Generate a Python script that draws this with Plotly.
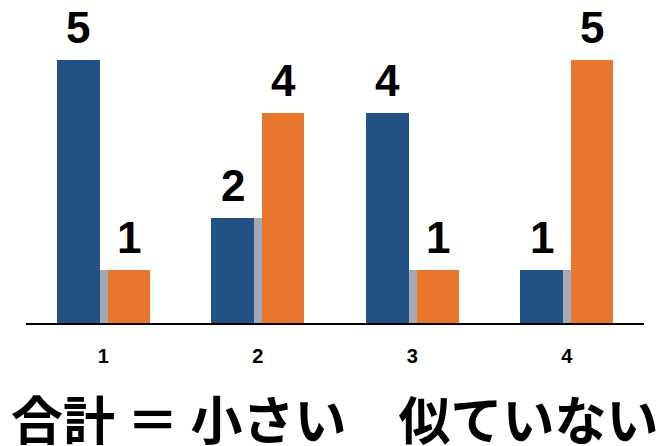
import plotly.graph_objects as go

categories = [1, 2, 3, 4]
tick_labels = ["1", "2", "3", "4"]
blue_values = [5, 2, 4, 1]
orange_values = [1, 4, 1, 5]
overlap_values = [1, 2, 1, 1]
caption = "合計 ＝ 小さい　似ていない"

BLUE = "#225283"
ORANGE = "#E8772D"
GRAY = "#A3AAB4"

BLUE_OFF, BLUE_W = -0.30, 0.278
GRAY_OFF, GRAY_W = -0.024, 0.055
ORANGE_OFF, ORANGE_W = 0.030, 0.272

label_font = dict(family="Liberation Sans, Arial, sans-serif", size=44, color="black")

fig = go.Figure()
fig.add_trace(go.Bar(
    x=categories, y=blue_values, width=BLUE_W, offset=BLUE_OFF,
    marker=dict(color=BLUE, line=dict(width=0)), showlegend=False,
))
fig.add_trace(go.Bar(
    x=categories, y=overlap_values, width=GRAY_W, offset=GRAY_OFF,
    marker=dict(color=GRAY, line=dict(width=0)), showlegend=False,
))
fig.add_trace(go.Bar(
    x=categories, y=orange_values, width=ORANGE_W, offset=ORANGE_OFF,
    marker=dict(color=ORANGE, line=dict(width=0)), showlegend=False,
))

# value labels above the bars
for cat, bv, ov in zip(categories, blue_values, orange_values):
    for val, off, w in ((bv, BLUE_OFF, BLUE_W), (ov, ORANGE_OFF, ORANGE_W)):
        fig.add_annotation(
            x=cat + off + w / 2, y=val, xref="x", yref="y",
            text=f"<b>{val}</b>", showarrow=False, font=label_font,
            xanchor="center", yanchor="bottom", yshift=6,
        )

H = 446
T, B = 0, 123
plot_h = H - T - B
fig.add_annotation(
    x=0.5, y=(H - B - 417) / plot_h, xref="paper", yref="paper",
    text=f"<b>{caption}</b>",
    showarrow=False, font=dict(family="Noto Sans CJK JP", size=52, color="black"),
    xanchor="center", yanchor="middle",
)

fig.update_layout(
    width=668, height=446,
    margin=dict(l=26, r=24, t=T, b=B, autoexpand=False),
    plot_bgcolor="white", paper_bgcolor="white",
    barmode="overlay", bargap=0,
    xaxis=dict(
        range=[0.5, 4.5], tickvals=categories,
        ticktext=[f"<b>{t}</b>" for t in tick_labels],
        tickfont=dict(family="Liberation Sans, Arial, sans-serif", size=20, color="black"),
        showline=True, linecolor="black", linewidth=2, showgrid=False,
        ticks="", zeroline=False, ticklabelstandoff=14, automargin=False,
    ),
    yaxis=dict(range=[0, 6.14], visible=False, showgrid=False, zeroline=False, automargin=False),
)

fig.write_html(
    "out.html",
    config={"displayModeBar": False},
    post_script="document.body.style.margin='0';document.body.style.overflow='hidden';",
)
